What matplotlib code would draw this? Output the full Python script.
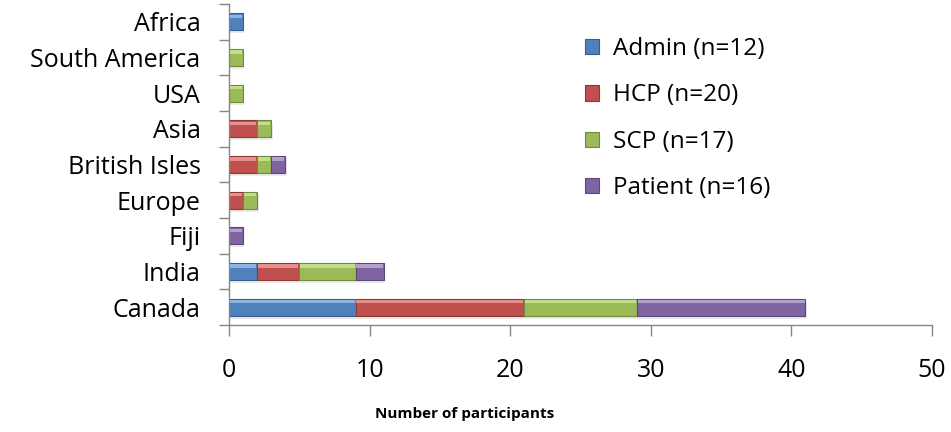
import matplotlib
matplotlib.use("Agg")
import matplotlib.pyplot as plt
import numpy as np
from matplotlib.patches import Patch

plt.rcParams["font.family"] = ["Open Sans", "DejaVu Sans"]

regions = ["Canada", "India", "Fiji", "Europe", "British Isles", "Asia",
           "USA", "South America", "Africa"]
groups = ["Admin (n=12)", "HCP (n=20)", "SCP (n=17)", "Patient (n=16)"]
admin = [9, 2, 0, 0, 0, 0, 0, 0, 1]
hcp = [12, 3, 0, 1, 2, 2, 0, 0, 0]
scp = [8, 4, 0, 1, 1, 1, 1, 1, 0]
patient = [12, 2, 1, 0, 1, 0, 0, 0, 0]

colors = ["#4f81bd", "#c0504d", "#9bbb59", "#8064a2"]
dark = ["#385d8a", "#8c3836", "#71893f", "#5c4776"]
light = ["#8db3e2", "#e6908e", "#c3dd8a", "#b19fcc"]

fig = plt.figure(figsize=(9.51, 4.32), dpi=100)
ax = fig.add_axes([229 / 951, 1 - 325 / 432, 703 / 951, 321 / 432])

y = np.arange(len(regions))
h = 0.47
left = np.zeros(len(regions))
series = [admin, hcp, scp, patient]
# soft shadow under each full bar
total = np.sum(series, axis=0)
ax.barh(y - 0.09, total, height=h, left=0.1, color="#000000", alpha=0.08,
        linewidth=0, zorder=1)
for vals, c, d, l in zip(series, colors, dark, light):
    vals = np.array(vals, dtype=float)
    m = vals > 0
    ax.barh(y[m], vals[m], height=h, left=left[m], color=c, edgecolor=d,
            linewidth=0.8, zorder=2)
    # bevel highlight
    ax.barh(y[m] + h * 0.32, vals[m] - 0.12, height=h * 0.2,
            left=left[m] + 0.06, color=l, linewidth=0, zorder=3)
    left += vals

ax.set_xlim(0, 50)
ax.set_ylim(-0.5, len(regions) - 0.5)
ax.set_xticks(np.arange(0, 51, 10))
ax.tick_params(axis="x", direction="out", length=8, width=1, color="#868686",
               pad=16, labelsize=18, labelcolor="#000000")
ax.set_yticks(np.arange(-0.5, len(regions), 1))
ax.set_yticklabels([])
ax.set_yticks(y, minor=True)
ax.set_yticklabels(regions, minor=True)
ax.tick_params(axis="y", which="major", direction="out", length=7, width=1,
               color="#868686")
ax.tick_params(axis="y", which="minor", length=0, pad=20.5, labelsize=18)

for s in ("top", "right"):
    ax.spines[s].set_visible(False)
for s in ("left", "bottom"):
    ax.spines[s].set_color("#868686")
    ax.spines[s].set_linewidth(1)

ax.set_xlabel("Number of participants", fontsize=11, fontweight="bold")
ax.xaxis.set_label_coords((465 - 229) / 703, -0.255)

handles = [Patch(facecolor=c, edgecolor=d, linewidth=0.8)
           for c, d in zip(colors, dark)]
ax.legend(handles, groups, loc="upper left", bbox_to_anchor=(0.475, 0.965),
          frameon=False, fontsize=17.5, handlelength=0.6, handleheight=0.6,
          handletextpad=0.55, labelspacing=0.92)

fig.savefig("out.png", dpi=100)
